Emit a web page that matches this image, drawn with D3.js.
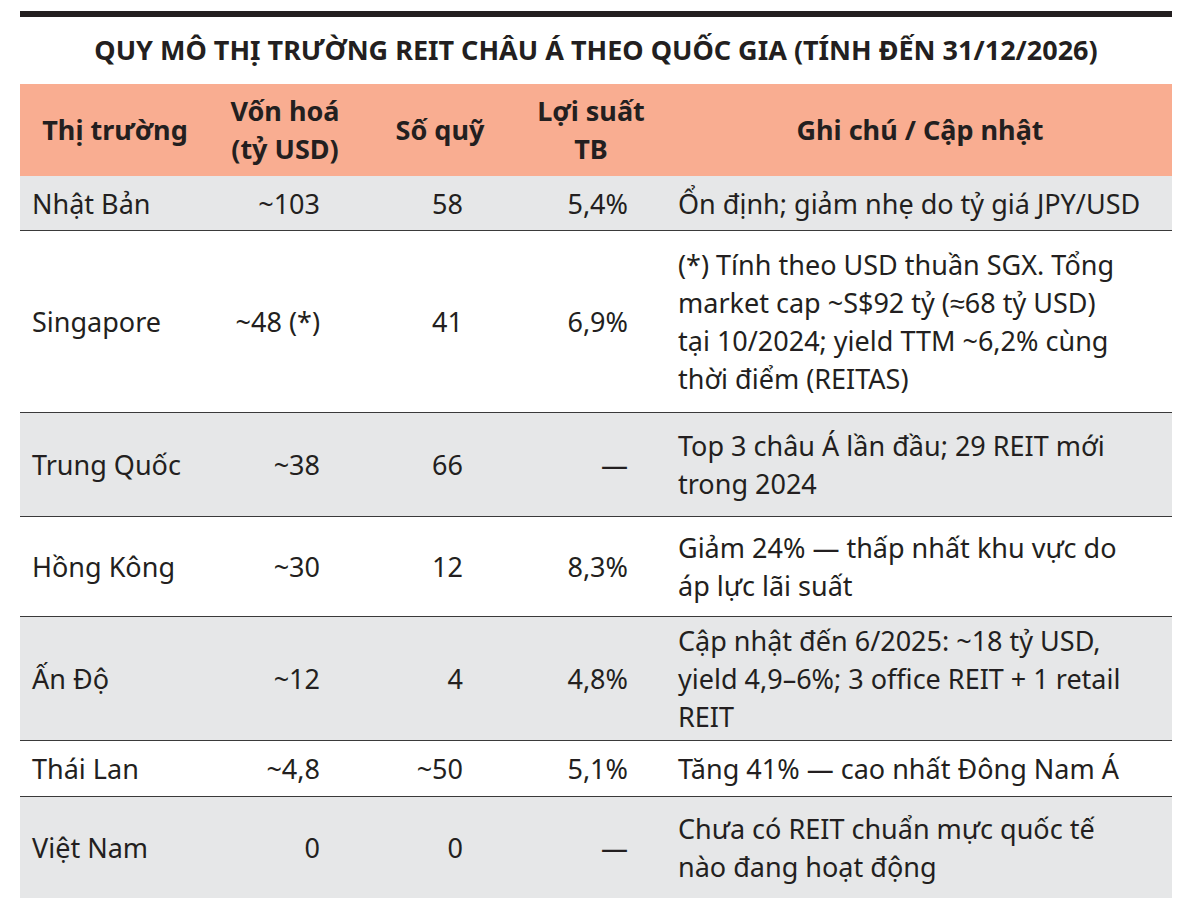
<!DOCTYPE html>
<html><head><meta charset="utf-8">
<script src="https://cdn.jsdelivr.net/npm/d3@7"></script>
<style>body{margin:0;background:#fff}text{font-family:"Noto Sans",sans-serif}</style>
</head><body><svg width="1200" height="921"></svg>
<script>
var svg = d3.select('svg');

// data
var title = 'QUY MÔ THỊ TRƯỜNG REIT CHÂU Á THEO QUỐC GIA (TÍNH ĐẾN 31/12/2026)';
var headers = [['Thị trường'], ['Vốn hoá', '(tỷ USD)'], ['Số quỹ'], ['Lợi suất', 'TB'], ['Ghi chú / Cập nhật']];
var markets = ['Nhật Bản', 'Singapore', 'Trung Quốc', 'Hồng Kông', 'Ấn Độ', 'Thái Lan', 'Việt Nam'];
var caps = ['~103', '~48 (*)', '~38', '~30', '~12', '~4,8', '0'];
var funds = ['58', '41', '66', '12', '4', '~50', '0'];
var yields = ['5,4%', '6,9%', '—', '8,3%', '4,8%', '5,1%', '—'];
var notes = [
  ['Ổn định; giảm nhẹ do tỷ giá JPY/USD'],
  ['(*) Tính theo USD thuần SGX. Tổng', 'market cap ~S$92 tỷ (≈68 tỷ USD)', 'tại 10/2024; yield TTM ~6,2% cùng', 'thời điểm (REITAS)'],
  ['Top 3 châu Á lần đầu; 29 REIT mới', 'trong 2024'],
  ['Giảm 24% — thấp nhất khu vực do', 'áp lực lãi suất'],
  ['Cập nhật đến 6/2025: ~18 tỷ USD,', 'yield 4,9–6%; 3 office REIT + 1 retail', 'REIT'],
  ['Tăng 41% — cao nhất Đông Nam Á'],
  ['Chưa có REIT chuẩn mực quốc tế', 'nào đang hoạt động']
];

// layout
var left = 20, right = 1172;
var rowEdges = [176, 231, 413, 517, 617, 741, 797, 898];
var lineH = 38;
var fs = 27;

svg.append('rect').attr('x', left).attr('y', 11).attr('width', right - left).attr('height', 6).attr('fill', '#231f20');

var t = svg.append('text').attr('x', (left + right) / 2).attr('y', 60)
  .attr('text-anchor', 'middle').attr('font-weight', 700).attr('font-size', 27)
  .attr('fill', '#231f20').text(title);
if (t.node().getComputedTextLength() > 1110) t.attr('textLength', 1110).attr('lengthAdjust', 'spacingAndGlyphs');

// header band
svg.append('rect').attr('x', left).attr('y', 84).attr('width', right - left).attr('height', 92).attr('fill', '#f9ad91');
var headX = [115, 285, 440, 591, 920];
headers.forEach(function(h, i) {
  h.forEach(function(s, k) {
    svg.append('text').attr('x', headX[i]).attr('y', 130 - (h.length - 1) * 19 + k * 38 + 10)
      .attr('text-anchor', 'middle').attr('font-weight', 700).attr('font-size', fs)
      .attr('fill', '#231f20').text(s);
  });
});

// rows
var rows = markets.map(function(m, i) {
  return {m: m, cap: caps[i], fund: funds[i], y: yields[i], note: notes[i], y0: rowEdges[i], y1: rowEdges[i + 1], i: i};
});
var g = svg.selectAll('g.row').data(rows).enter().append('g').attr('class', 'row');
g.append('rect').attr('x', left).attr('y', function(d) { return d.y0; })
  .attr('width', right - left).attr('height', function(d) { return d.y1 - d.y0; })
  .attr('fill', function(d) { return d.i % 2 === 0 ? '#e6e7e8' : '#fff'; });
g.filter(function(d) { return d.i < rows.length - 1; })
  .append('line').attr('x1', left).attr('x2', right)
  .attr('y1', function(d) { return d.y1; }).attr('y2', function(d) { return d.y1; })
  .attr('stroke', '#3a3a3a').attr('stroke-width', 2);

function mid(d) { return (d.y0 + d.y1) / 2 + 10; }
var cols = [
  {k: 'm', x: 32, a: 'start'},
  {k: 'cap', x: 320, a: 'end'},
  {k: 'fund', x: 463, a: 'end'},
  {k: 'y', x: 628, a: 'end'}
];
cols.forEach(function(c) {
  g.append('text').attr('x', c.x).attr('y', mid).attr('text-anchor', c.a)
    .attr('font-size', fs).attr('fill', '#231f20').text(function(d) { return d[c.k]; });
});
g.each(function(d) {
  var n = d.note.length;
  d3.select(this).selectAll('text.note').data(d.note).enter().append('text')
    .attr('class', 'note').attr('x', 678)
    .attr('y', function(s, k) { return mid(d) - (n - 1) * lineH / 2 + k * lineH; })
    .attr('font-size', fs).attr('fill', '#231f20').text(function(s) { return s; });
});
</script></body></html>
